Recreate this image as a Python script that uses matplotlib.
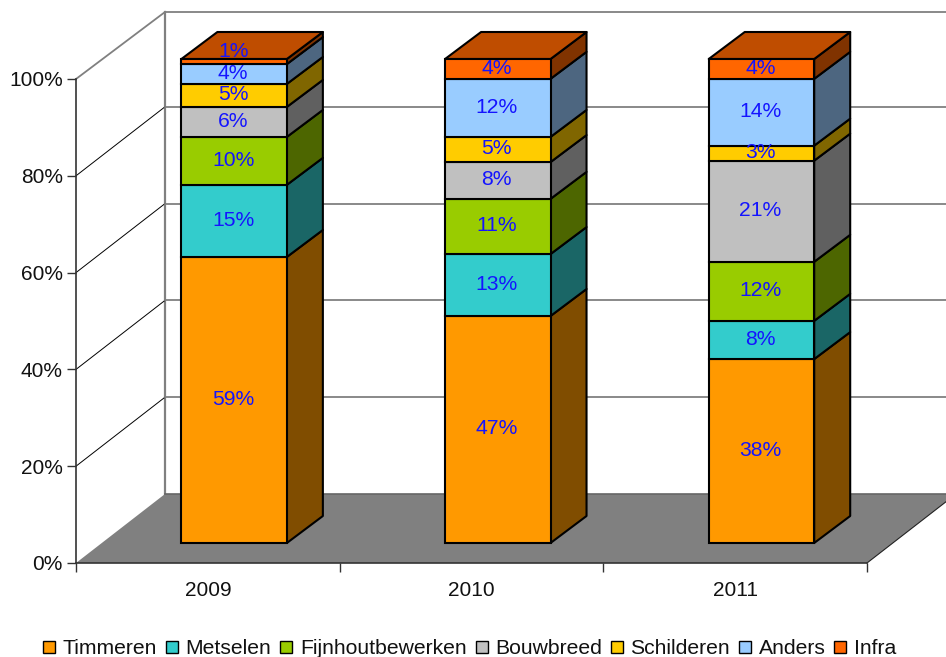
import matplotlib
matplotlib.use("Agg")
import matplotlib.pyplot as plt
from matplotlib.lines import Line2D
from matplotlib.patches import Polygon
from matplotlib.colors import to_rgb
import numpy as np

plt.rcParams['font.family'] = ['Liberation Sans', 'DejaVu Sans']

years = ["2009", "2010", "2011"]
series = ["Timmeren", "Metselen", "Fijnhoutbewerken", "Bouwbreed", "Schilderen", "Anders", "Infra"]
colors = ["#FF9900", "#33CCCC", "#99CC00", "#C0C0C0", "#FFCC00", "#99CCFF", "#FF6600"]

# one row per year, bottom to top
values = np.array([
    [59.1, 14.9, 9.9, 6.2, 4.75, 4.1, 1.05],
    [46.9, 12.8, 11.4, 7.6, 5.2, 12.0, 4.1],
    [38.0, 7.9, 12.2, 20.9, 3.1, 13.8, 4.1],
])
labels = [
    ["59%", "15%", "10%", "6%", "5%", "4%", "1%"],
    ["47%", "13%", "11%", "8%", "5%", "12%", "4%"],
    ["38%", "8%", "12%", "21%", "3%", "14%", "4%"],
]
y_ticks = [0, 20, 40, 60, 80, 100]

W, H = 946, 657
fig = plt.figure(figsize=(W / 100, H / 100), dpi=100)
ax = fig.add_axes([76 / W, (H - 563) / H, 791 / W, 484 / H])
ax.set_xlim(0, 3)
ax.set_ylim(0, 100)

# pseudo 3D offsets in data units
px_x = 3 / 791
px_y = 100 / 484
wall_dx, wall_dy = 89 * px_x, 69 * px_y
wall_top_dy = 67 * px_y
shift_x, shift_y = 26.3 * px_x, 20 * px_y
bar_dx, bar_dy = 36 * px_x, 27 * px_y
bar_w = 0.4


def shade(c, f):
    return tuple(v * f for v in to_rgb(c))


def poly(pts, fc, ec="black", lw=1.5, z=3):
    ax.add_patch(Polygon(pts, closed=True, facecolor=fc, edgecolor=ec, linewidth=lw,
                         joinstyle="round", clip_on=False, zorder=z))


# floor
poly([(0, 0), (3, 0), (3 + wall_dx, wall_dy), (wall_dx, wall_dy)], "#808080", ec="none", lw=0, z=1)
ax.plot([3, 3 + wall_dx], [0, wall_dy], color="#222222", lw=0.8, clip_on=False, zorder=1.5)
ax.plot([wall_dx, 3 + wall_dx], [wall_dy, wall_dy], color="#666666", lw=1.2, clip_on=False, zorder=1.5)

# walls and gridlines
ax.plot([wall_dx, wall_dx], [wall_dy, 100 + wall_top_dy], color="#808080", lw=1.6, clip_on=False, zorder=1)
for t in y_ticks[1:]:
    back = t + (wall_top_dy if t == 100 else wall_dy)
    c = "#808080" if t == 100 else "black"
    lw = 1.3 if t == 100 else 0.7
    ax.plot([0, wall_dx], [t, back], color=c, lw=lw, clip_on=False, zorder=1)
    ax.plot([wall_dx, 3 + wall_dx], [back, back], color="#808080", lw=1.3, clip_on=False, zorder=1)

# stacked bars
for i in range(len(years)):
    x0 = i + 0.5 + shift_x - bar_w / 2
    x1 = x0 + bar_w
    bottom = shift_y
    for j, v in enumerate(values[i]):
        top = bottom + v
        z = 3 + j * 0.1
        poly([(x1, bottom), (x1 + bar_dx, bottom + bar_dy), (x1 + bar_dx, top + bar_dy), (x1, top)],
             shade(colors[j], 0.5), z=z)
        ax.bar(x0, v, width=bar_w, bottom=bottom, align="edge", color=colors[j], edgecolor="black",
               linewidth=1.5, clip_on=False, zorder=z + 0.01)
        if j == len(series) - 1:
            poly([(x0, top), (x0 + bar_dx, top + bar_dy), (x1 + bar_dx, top + bar_dy), (x1, top)],
                 shade(colors[j], 0.75), z=z)
        # the 1% label sits above its thin slice
        y_txt = bottom + v / 2 + (2.0 if labels[i][j] == "1%" else 0)
        ax.text(x0 + bar_w / 2 - 1 * px_x, y_txt + 0.15, labels[i][j], ha="center", va="center",
                fontsize=15.2, color="#1414FF", zorder=6)
        bottom = top

# axes
for s in ["top", "right"]:
    ax.spines[s].set_visible(False)
ax.patch.set_visible(False)
for s in ["left", "bottom"]:
    ax.spines[s].set_color("#333333")
    ax.spines[s].set_linewidth(1.2)
    ax.spines[s].set_zorder(2)
ax.set_yticks(y_ticks)
ax.set_yticklabels([f"{t}%" for t in y_ticks], fontsize=15, color="#111111")
ax.set_xticks([0, 1, 2, 3])
ax.set_xticklabels([])
ax.set_xticks([0.5, 1.5, 2.5], minor=True)
ax.set_xticklabels(years, minor=True, fontsize=15, color="#111111")
ax.tick_params(axis="y", length=6.5, width=1, color="#333333", pad=3)
ax.tick_params(axis="x", which="major", length=6.5, width=1, color="#333333")
ax.tick_params(axis="x", which="minor", length=0, pad=13)

handles = [Line2D([], [], linestyle="none", marker="s", markersize=8.8, markerfacecolor=c,
                  markeredgecolor="black", markeredgewidth=1) for c in colors]
fig.legend(handles, series, loc="center", bbox_to_anchor=(469.5 / W, 1 - 648.5 / H), ncol=7, frameon=False,
           fontsize=15.2, handlelength=0.62, handletextpad=0.33, columnspacing=0.4, borderpad=0,
           labelcolor="#111111")

fig.savefig("out.png", dpi=100, facecolor="white")
